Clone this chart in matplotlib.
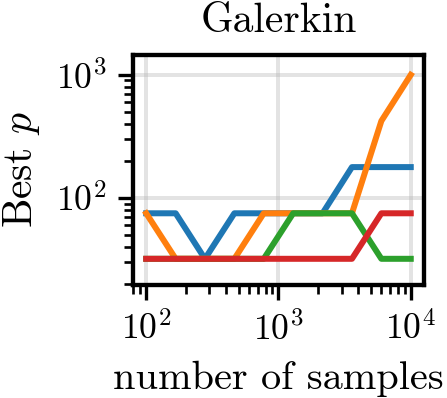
import numpy as np
import matplotlib
matplotlib.use("Agg")
import matplotlib.pyplot as plt

# data
n_samples = [100, 167, 278, 464, 774, 1292, 2154, 3594, 5995, 10000]
best_p_blue = [75, 75, 32, 75, 75, 75, 75, 178, 178, 178]
best_p_orange = [75, 32, 32, 32, 75, 75, 75, 75, 422, 1000]
best_p_green = [32, 32, 32, 32, 32, 75, 75, 75, 32, 32]
best_p_red = [32, 32, 32, 32, 32, 32, 32, 32, 75, 75]

plt.rcParams['font.family'] = 'serif'
plt.rcParams['font.serif'] = ['cmr10']
plt.rcParams['mathtext.fontset'] = 'cm'
plt.rcParams['axes.formatter.use_mathtext'] = True
plt.rcParams['font.size'] = 12.5
plt.rcParams['axes.titlesize'] = 12.5
plt.rcParams['xtick.labelsize'] = 10.7
plt.rcParams['ytick.labelsize'] = 10.7
plt.rcParams['axes.linewidth'] = 1.3
for ax_name in ['xtick', 'ytick']:
    plt.rcParams[ax_name + '.major.size'] = 4.5
    plt.rcParams[ax_name + '.major.width'] = 1.0
    plt.rcParams[ax_name + '.minor.size'] = 2.7
    plt.rcParams[ax_name + '.minor.width'] = 0.8

dpi = 240
fig = plt.figure(figsize=(447 / dpi, 398 / dpi), dpi=dpi)
ax = fig.add_axes([0.2975, 0.2839, 0.651, 0.5779])

for ys, c in zip([best_p_blue, best_p_orange, best_p_green, best_p_red],
                 ['tab:blue', 'tab:orange', 'tab:green', 'tab:red']):
    ax.plot(n_samples, ys, color=c, lw=1.8)

ax.set_xscale('log')
ax.set_yscale('log')
ax.set_ylim(19.6, 1450)
ax.grid(True, which='major', color='#b0b0b0', alpha=0.35, lw=1.2)

ax.set_title("Galerkin", pad=7)
ax.set_xlabel("number of samples", fontsize=12.1)
ax.set_ylabel("Best $p$")

fig.savefig("out.png", dpi=dpi)
